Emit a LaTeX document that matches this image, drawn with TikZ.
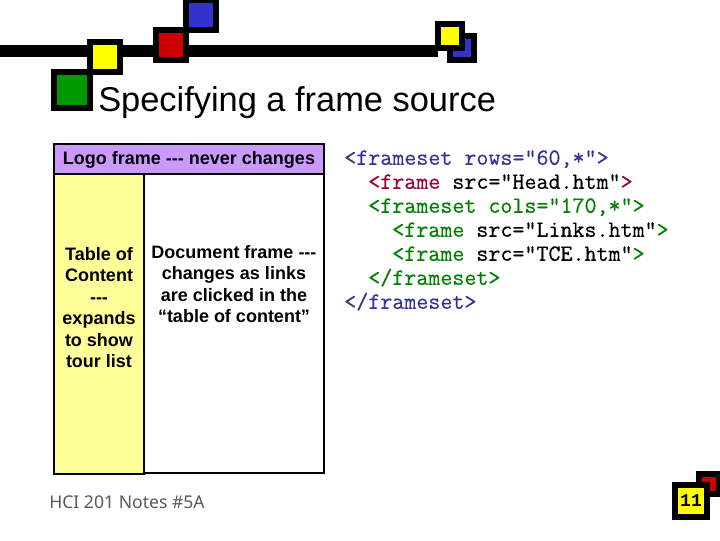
\documentclass[tikz,border=0pt]{standalone}
\usepackage{fontspec}
\usepackage{xcolor}
\setmainfont{Liberation Sans}
\newfontfamily\codefont[FakeBold=0.5]{Latin Modern Mono}
\newfontfamily\pagefont{Liberation Mono}
\newfontfamily\notefont{Noto Sans}
\usetikzlibrary{positioning}
\definecolor{logopurple}{RGB}{204,153,255}
\definecolor{tocyellow}{RGB}{255,255,153}
\definecolor{markgreen}{RGB}{0,153,0}
\definecolor{markyellow}{RGB}{255,255,0}
\definecolor{markred}{RGB}{204,0,0}
\definecolor{markblue}{RGB}{51,51,204}
\definecolor{codeblue}{RGB}{51,51,153}
\definecolor{codered}{RGB}{153,0,51}
\definecolor{codegreen}{RGB}{0,128,0}
\newcommand{\codeind}{\hspace*{18pt}}
\tikzset{
    markbox/.style={draw=black, line width=4.5pt, minimum size=#1*0.75pt, inner sep=0pt, outer sep=0pt},
    framebox/.style={draw=black, line width=1.5pt, inner sep=0pt, outer sep=0pt},
    framelabel/.style={font=\bfseries\fontsize{13.5}{16.1}\selectfont, align=center, inner sep=0pt}
}
\begin{document}
\begin{tikzpicture}[x=0.75pt, y=-0.75pt]
    \useasboundingbox (0,0) rectangle (720,540);

    % Top bar and marks
    \coordinate (barstart) at (0,51);
    \node[markbox=24, fill=markblue] (blueback) at (462,48) {};
    \node[markbox=24, fill=markyellow] (yellowend) at (450,36) {};
    \draw[line width=9pt] (barstart) -- (yellowend.south west |- barstart);
    \node[markbox=30, fill=markred] (redmark) at (171,45) {};
    \node[markbox=30, fill=markblue] (bluemark) at (201,15) {};
    \node[markbox=30, fill=markyellow] (yellowmark) at (105,57) {};
    \node[markbox=36, fill=markgreen] (greenmark) at (72,90) {};

    % Title
    \node[font=\fontsize{25.8}{30}\selectfont, anchor=base west, inner sep=0pt] (title) at (98,111) {Specifying a frame source};

    % Frames
    \node[framebox, fill=logopurple, minimum width=270*0.75pt, minimum height=30*0.75pt, text height=10pt, text depth=1.5pt] (logoframe) at (189,159)
        {\bfseries\fontsize{13.5}{16}\selectfont Logo frame -{}-{}- never changes};
    \node[framebox, minimum width=180*0.75pt, minimum height=299*0.75pt, anchor=north west] (docframe) at (144,174) {};
    \node[framebox, fill=tocyellow, minimum width=90*0.75pt, minimum height=300*0.75pt, anchor=north west] (tocframe) at (54,174) {};
    \node[framelabel] (toclabel) at (99,307.5) {Table of\\Content\\-{}-{}-\\expands\\to show\\tour list};
    \node[framelabel, anchor=north] (doclabel) at (234,245) {Document frame -{}-{}-\\changes as links\\are clicked in the\\“table of content”};

    % Code
    \node[font=\codefont\fontsize{17.5}{18}\selectfont, align=left, anchor=north west, inner sep=0pt] (framecode) at (344,150) {%
        \textcolor{codeblue}{<frameset rows="60,*">}\\
        \codeind \textcolor{codered}{<frame} src="Head.htm"\textcolor{codered}{>}\\
        \codeind \textcolor{codegreen}{<frameset cols="170,*">}\\
        \codeind\codeind \textcolor{codegreen}{<frame} src="Links.htm"\textcolor{codegreen}{>}\\
        \codeind\codeind \textcolor{codegreen}{<frame} src="TCE.htm"\textcolor{codegreen}{>}\\
        \codeind \textcolor{codegreen}{</frameset>}\\
        \textcolor{codeblue}{</frameset>}};

    % Footer
    \node[font=\notefont\fontsize{13.2}{15}\selectfont, text=black!65, anchor=base west, inner sep=0pt] (footnote) at (49,508) {HCI 201 Notes \#5A};
    \node[markbox=20, fill=markred] (redback) at (709,484) {};
    \node[markbox=32, fill=markyellow, font=\pagefont\bfseries\fontsize{13.5}{16}\selectfont] (pagenum) at (691,501) {11};
\end{tikzpicture}
\end{document}
